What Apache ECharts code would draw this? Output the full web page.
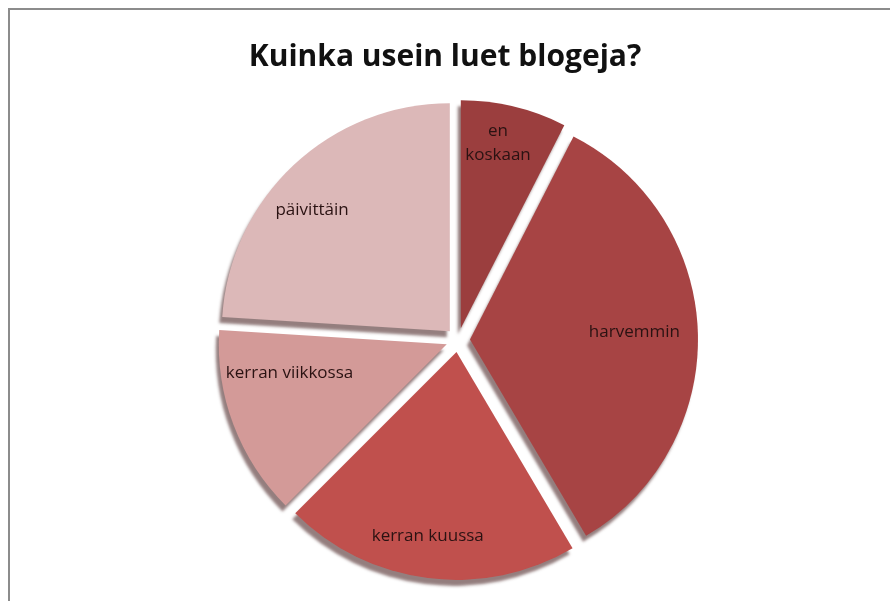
<!DOCTYPE html>
<html>
<head>
<meta charset="utf-8">
<script src="https://cdn.jsdelivr.net/npm/echarts@6/dist/echarts.min.js"></script>
<style>
  html, body { margin: 0; padding: 0; background: #fff; }
  #frame { position: absolute; left: 8px; top: 8px; width: 900px; height: 620px; border-left: 2px solid #8c8c8c; border-top: 2px solid #8c8c8c; }
  #chart { position: absolute; left: 0; top: 0; width: 890px; height: 601px; }
</style>
</head>
<body>
<div id="frame"></div>
<div id="chart"></div>
<script>
const titleText = 'Kuinka usein luet blogeja?';
const categories = ['en\nkoskaan', 'harvemmin', 'kerran kuussa', 'kerran viikkossa', 'päivittäin'];
const values = [7.5, 34, 21, 13.5, 24];
const colors = ['#9b3e3e', '#a74444', '#c0504d', '#d39a98', '#dcb8b8'];
// small label nudges (style only)
const labelNudge = [[-7, -1], [-25, -2], [-5, -4], [20, -38], [-8, 17]];

const chart = echarts.init(document.getElementById('chart'), null, { renderer: 'canvas' });

const pieData = categories.map((c, i) => ({
  name: c, value: values[i], selected: true,
  itemStyle: { color: colors[i] }
}));
const labelData = categories.map((c, i) => ({
  name: c, value: values[i], selected: true
}));

chart.setOption({
  animation: false,
  title: {
    text: titleText,
    left: 'center',
    top: 37,
    textStyle: { fontFamily: 'Open Sans', fontWeight: 'bold', fontSize: 30, color: '#111' }
  },
  series: [
    {
      type: 'pie',
      center: [458, 340],
      radius: [0, 228],
      startAngle: 90,
      clockwise: true,
      selectedMode: 'multiple',
      selectedOffset: 12,
      avoidLabelOverlap: false,
      label: { show: false },
      labelLine: { show: false },
      itemStyle: {
        borderWidth: 0,
        shadowColor: 'rgba(60,20,20,0.55)',
        shadowBlur: 3,
        shadowOffsetX: -3,
        shadowOffsetY: 6
      },
      emphasis: { disabled: true },
      select: { itemStyle: {} },
      data: pieData
    },
    {
      type: 'pie',
      center: [458, 340],
      radius: [145, 228],
      startAngle: 90,
      clockwise: true,
      selectedMode: 'multiple',
      selectedOffset: 12,
      silent: true,
      avoidLabelOverlap: false,
      itemStyle: { color: 'rgba(0,0,0,0)' },
      label: {
        show: true,
        position: 'inside',
        fontFamily: 'Open Sans',
        fontSize: 17,
        lineHeight: 24,
        color: '#2a1212'
      },
      labelLayout: function (p) {
        const n = labelNudge[p.dataIndex] || [0, 0];
        return { dx: n[0], dy: n[1] };
      },
      labelLine: { show: false },
      emphasis: { disabled: true },
      data: labelData
    }
  ]
});
</script>
</body>
</html>
